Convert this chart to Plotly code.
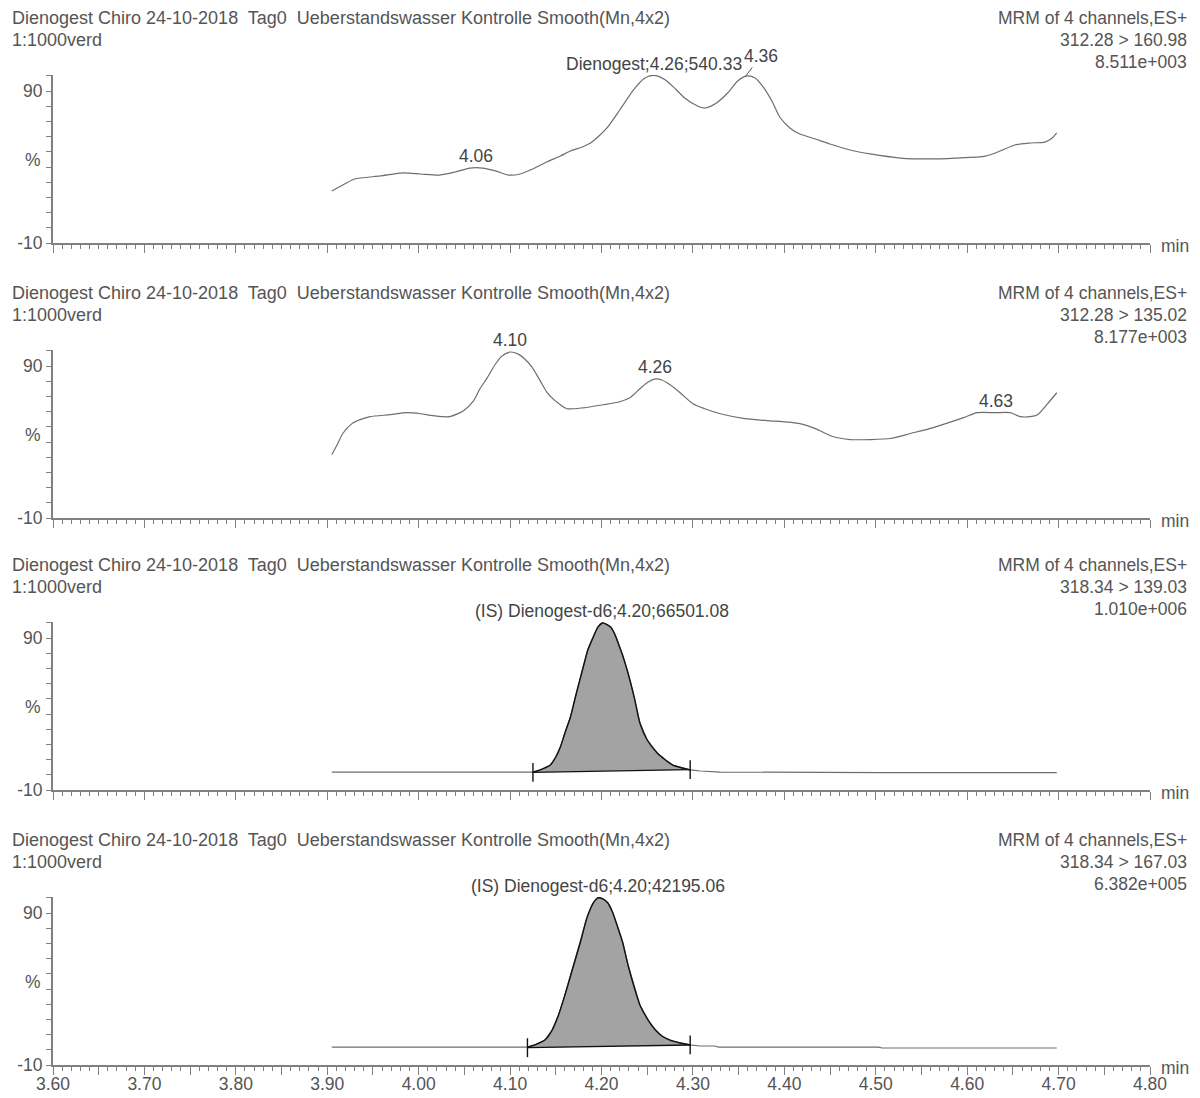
import numpy as np
import plotly.graph_objects as go

W, H = 1200, 1098
FONT = "Liberation Sans, Arial, sans-serif"
FS = 17.5
FSH = 18
TXT = "#555555"
TRACE = "#6e6e6e"
AXIS = "#808080"

# ---------------- data ----------------
header_left_1 = "Dienogest Chiro 24-10-2018\u00a0 Tag0\u00a0 Ueberstandswasser Kontrolle Smooth(Mn,4x2)"
header_left_2 = "1:1000verd"
header_right_1 = "MRM of 4 channels,ES+"
channels = ["312.28 > 160.98", "312.28 > 135.02", "318.34 > 139.03", "318.34 > 167.03"]
intensities = ["8.511e+003", "8.177e+003", "1.010e+006", "6.382e+005"]

y_tick_vals = [-10, 0, 10, 20, 30, 40, 50, 60, 70, 80, 90, 100]
y_tick_text = ["-10", "", "", "", "", "", "", "", "", "", "90", ""]

# channel 1: 312.28 > 160.98
p1_t = [3.905, 3.919, 3.930, 3.958, 3.983, 4.002, 4.023, 4.040, 4.056, 4.070, 4.084, 4.098,
        4.111, 4.127, 4.140, 4.155, 4.166, 4.179, 4.188, 4.196, 4.206, 4.220, 4.235, 4.246,
        4.253, 4.261, 4.270, 4.281, 4.291, 4.305, 4.313, 4.324, 4.338, 4.349, 4.359, 4.368,
        4.377, 4.387, 4.395, 4.406, 4.417, 4.434, 4.450, 4.472, 4.494, 4.527, 4.560, 4.587,
        4.620, 4.636, 4.652, 4.669, 4.685, 4.693, 4.698]
p1_y = [24.2, 28.8, 32.1, 34.1, 36.1, 35.4, 34.7, 36.7, 39.3, 39.3, 37.4, 34.7,
        35.4, 39.3, 43.3, 47.2, 50.5, 53.2, 55.8, 59.7, 65.7, 77.5, 90.7, 97.9,
        100.0, 100.0, 97.2, 91.3, 85.4, 80.1, 78.8, 81.4, 88.7, 96.6, 99.9, 98.6,
        92.6, 82.8, 72.9, 65.7, 61.7, 58.4, 55.1, 51.2, 48.6, 45.9, 45.3, 45.9,
        47.2, 50.5, 54.5, 55.8, 56.4, 59.1, 62.4]

# channel 2: 312.28 > 135.02
p2_t = [3.905, 3.911, 3.917, 3.927, 3.936, 3.947, 3.969, 3.987, 4.002, 4.016, 4.034, 4.049,
        4.060, 4.067, 4.075, 4.084, 4.091, 4.100, 4.109, 4.116, 4.124, 4.133, 4.140, 4.147,
        4.155, 4.162, 4.180, 4.202, 4.220, 4.231, 4.242, 4.251, 4.259, 4.266, 4.275, 4.286,
        4.300, 4.313, 4.330, 4.357, 4.381, 4.417, 4.434, 4.453, 4.472, 4.494, 4.516, 4.538,
        4.563, 4.596, 4.611, 4.631, 4.647, 4.658, 4.669, 4.677, 4.688, 4.698]
p2_y = [31.8, 38.4, 45.6, 52.1, 54.7, 56.7, 58.0, 59.3, 58.6, 57.3, 56.7, 60.6,
        67.1, 75.0, 82.2, 91.3, 96.5, 99.2, 97.8, 94.6, 89.3, 80.2, 73.0, 68.4,
        64.5, 61.9, 62.5, 64.5, 66.5, 69.1, 75.0, 79.5, 81.5, 80.8, 77.6, 72.4,
        65.2, 61.9, 58.6, 55.4, 54.1, 52.1, 48.8, 43.6, 41.6, 41.6, 42.3, 45.6,
        49.5, 56.0, 59.3, 59.3, 59.3, 56.7, 56.7, 58.0, 65.2, 72.4]

# channel 3: 318.34 > 139.03 (IS)
p3_t = [3.905, 4.034, 4.125, 4.133, 4.144, 4.150, 4.155, 4.160, 4.166, 4.172, 4.180, 4.185,
        4.191, 4.196, 4.201, 4.205, 4.210, 4.214, 4.217, 4.223, 4.229, 4.236, 4.242, 4.250,
        4.261, 4.270, 4.278, 4.288, 4.297, 4.308, 4.330, 4.505, 4.698]
p3_y = [1.8, 1.8, 1.8, 3.2, 6.4, 11.7, 18.3, 27.5, 38.0, 52.5, 70.9, 82.1,
        90.7, 97.2, 99.9, 99.2, 97.2, 93.3, 88.7, 78.8, 67.0, 50.5, 34.1, 22.9,
        14.3, 9.7, 6.4, 4.5, 3.2, 2.5, 1.8, 1.4, 1.4]

# channel 4: 318.34 > 167.03 (IS)
p4_t = [3.905, 4.119, 4.127, 4.138, 4.146, 4.153, 4.160, 4.168, 4.177, 4.184, 4.191, 4.196,
        4.202, 4.207, 4.212, 4.217, 4.223, 4.229, 4.236, 4.242, 4.251, 4.259, 4.266, 4.275,
        4.286, 4.297, 4.308, 4.324, 4.328, 4.503, 4.507, 4.698]
p4_y = [1.8, 1.8, 3.2, 6.4, 13.0, 22.9, 36.1, 52.5, 70.9, 86.7, 96.6, 99.9,
        99.2, 96.6, 90.7, 82.1, 70.9, 55.8, 40.7, 29.5, 19.6, 13.0, 9.1, 6.4,
        4.5, 3.2, 2.5, 2.5, 1.8, 1.8, 1.2, 1.2]

# peak labels per channel: (retention time, text)
labels = [
    [(4.063, "4.06"), (4.257, "Dienogest;4.26;540.33")],
    [(4.100, "4.10"), (4.259, "4.26"), (4.631, "4.63")],
    [(4.201, "(IS) Dienogest-d6;4.20;66501.08")],
    [(4.196, "(IS) Dienogest-d6;4.20;42195.06")],
]
leader_labels = [[(4.357, "4.36")], [], [], []]

# integration windows: (start, end, baseline at start, baseline at end)
integrations = [None, None, (4.125, 4.297, 1.6, 3.4), (4.119, 4.297, 1.4, 3.2)]

series = [(p1_t, p1_y), (p2_t, p2_y), (p3_t, p3_y), (p4_t, p4_y)]

# ---------------- layout geometry ----------------
bottoms_px = [243, 518, 790, 1065]
px_per_pct = 1.52
y_lo, y_hi = -10, 100.5
x_dom = [53 / W, 1150 / W]
LINE = dict(shape="spline", smoothing=0.7)

fig = go.Figure()
annotations = []
layout = {}

for i, (tt, yy) in enumerate(series):
    sfx = "" if i == 0 else str(i + 1)
    xr, yr = "x" + sfx, "y" + sfx
    b = bottoms_px[i]
    top = b - (y_hi - y_lo) * px_per_pct
    layout["xaxis" + sfx] = dict(
        domain=x_dom, anchor=yr, range=[3.6, 4.8], showgrid=False, zeroline=False,
        automargin=False,
        showline=True, linecolor=AXIS, linewidth=2,
        tickmode="array", tickvals=[round(3.6 + 0.05 * k, 2) for k in range(25)],
        ticktext=[(f"{3.6 + 0.05 * k:.2f}" if k % 2 == 0 else "") for k in range(25)],
        ticks="outside", ticklen=8, tickwidth=1.3, tickcolor=AXIS,
        showticklabels=(i == 3), ticklabelstandoff=-6,
        tickfont=dict(family=FONT, size=FS, color=TXT),
        minor=dict(tickmode="linear", tick0=3.6, dtick=0.01, ticks="outside",
                   ticklen=4, tickwidth=1, tickcolor=AXIS),
        fixedrange=True,
    )
    layout["yaxis" + sfx] = dict(
        domain=[1 - b / H, 1 - top / H], anchor=xr, range=[y_lo, y_hi],
        automargin=False,
        showgrid=False, zeroline=False, showline=True, linecolor=AXIS, linewidth=2,
        tickmode="array", tickvals=y_tick_vals, ticktext=y_tick_text,
        ticks="outside", ticklen=5, tickwidth=1.3, tickcolor=AXIS,
        tickfont=dict(family=FONT, size=FS, color=TXT), fixedrange=True,
    )

    tt = np.array(tt, dtype=float)
    yy = np.array(yy, dtype=float)
    integ = integrations[i]
    if integ is not None:
        s, e, b0, b1 = integ
        m = (tt >= s) & (tt <= e)
        pt = np.concatenate([[s], tt[m], [e]])
        py = np.concatenate([[np.interp(s, tt, yy)], yy[m], [np.interp(e, tt, yy)]])
        fig.add_trace(go.Scatter(
            x=list(pt) + [e, s], y=list(py) + [b1, b0], mode="lines", fill="toself",
            fillcolor="#a3a3a3", line=dict(width=0), xaxis=xr, yaxis=yr,
            hoverinfo="skip", showlegend=False))
        fig.add_trace(go.Scatter(x=tt, y=yy, mode="lines", line=dict(color=TRACE, width=1.2),
                                 xaxis=xr, yaxis=yr, showlegend=False))
        fig.add_trace(go.Scatter(x=pt, y=py, mode="lines",
                                 line=dict(color="#111111", width=1.4, **LINE),
                                 xaxis=xr, yaxis=yr, showlegend=False))
        fig.add_trace(go.Scatter(x=[s, e], y=[b0, b1], mode="lines",
                                 line=dict(color="#111111", width=1.4),
                                 xaxis=xr, yaxis=yr, showlegend=False))
        for tx, by in ((s, b0), (e, b1)):
            fig.add_trace(go.Scatter(x=[tx, tx], y=[by - 6.2, by + 6.2], mode="lines",
                                     line=dict(color="#111111", width=1.4),
                                     xaxis=xr, yaxis=yr, showlegend=False))
    else:
        fig.add_trace(go.Scatter(x=tt, y=yy, mode="lines",
                                 line=dict(color=TRACE, width=1.2, **LINE),
                                 xaxis=xr, yaxis=yr, showlegend=False))

    for rt, txt in labels[i]:
        annotations.append(dict(
            x=rt, y=float(np.interp(rt, tt, yy)), xref=xr, yref=yr, text=txt,
            showarrow=False, xanchor="center", yanchor="bottom", yshift=0,
            font=dict(family=FONT, size=FS, color="#444444")))
    for rt, txt in leader_labels[i]:
        annotations.append(dict(
            x=rt, y=float(np.interp(rt, tt, yy)), xref=xr, yref=yr, text=txt,
            showarrow=True, arrowhead=0, arrowwidth=1, arrowcolor="#555555",
            ax=16, ay=-21, standoff=0,
            font=dict(family=FONT, size=FS, color="#444444")))

    hy = [b - 225, b - 203, b - 181]
    annotations += [
        dict(x=10 / W, y=1 - hy[0] / H, xref="paper", yref="paper", text=header_left_1,
             showarrow=False, xanchor="left", yanchor="middle",
             font=dict(family=FONT, size=FSH, color=TXT)),
        dict(x=10 / W, y=1 - hy[1] / H, xref="paper", yref="paper", text=header_left_2,
             showarrow=False, xanchor="left", yanchor="middle",
             font=dict(family=FONT, size=FSH, color=TXT)),
        dict(x=1189 / W, y=1 - hy[0] / H, xref="paper", yref="paper", text=header_right_1,
             showarrow=False, xanchor="right", yanchor="middle",
             font=dict(family=FONT, size=FS, color=TXT)),
        dict(x=1189 / W, y=1 - hy[1] / H, xref="paper", yref="paper", text=channels[i],
             showarrow=False, xanchor="right", yanchor="middle",
             font=dict(family=FONT, size=FS, color=TXT)),
        dict(x=1189 / W, y=1 - hy[2] / H, xref="paper", yref="paper", text=intensities[i],
             showarrow=False, xanchor="right", yanchor="middle",
             font=dict(family=FONT, size=FS, color=TXT)),
        dict(x=43 / W, y=44.5, xref="paper", yref=yr, text="%", showarrow=False,
             xanchor="right", yanchor="middle", font=dict(family=FONT, size=FS, color=TXT)),
        dict(x=1159 / W, y=1 - (b + 3) / H, xref="paper", yref="paper", text="min",
             showarrow=False, xanchor="left", yanchor="middle",
             font=dict(family=FONT, size=FS, color=TXT)),
    ]

fig.update_layout(
    width=W, height=H, margin=dict(l=0, r=0, t=0, b=0, autoexpand=False),
    paper_bgcolor="white", plot_bgcolor="white", showlegend=False,
    annotations=annotations, font=dict(family=FONT, size=FS, color=TXT),
    **layout,
)

fig.write_html("out.html")
